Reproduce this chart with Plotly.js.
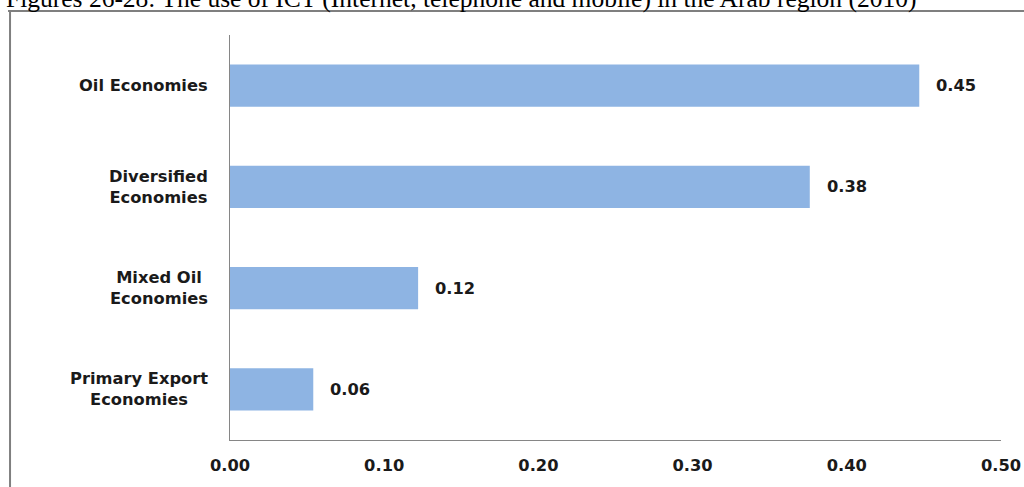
<!DOCTYPE html>
<html>
<head>
<meta charset="utf-8">
<script src="https://cdn.plot.ly/plotly-3.0.1.min.js"></script>
<style>
html,body{margin:0;padding:0;background:#fff;}
#chart{width:1024px;height:487px;}
</style>
</head>
<body>
<div id="chart"></div>
<script>
var titleText = "Figures 26-28: The use of ICT (Internet, telephone and mobile) in the Arab region (2010)";
var categories = ["Oil Economies", "Diversified<br>Economies", "Mixed Oil<br>Economies", "Primary Export<br>Economies"];
var values = [0.447, 0.376, 0.122, 0.054];
var valueLabels = ["0.45", "0.38", "0.12", "0.06"];
var xTicks = [0, 0.1, 0.2, 0.3, 0.4, 0.5];
var xTickLabels = ["0.00", "0.10", "0.20", "0.30", "0.40", "0.50"];

var labelFont = {family: "DejaVu Sans", size: 16.3, color: "#1a1a1a", weight: "bold"};

var trace = {
  type: "bar",
  orientation: "h",
  x: values,
  y: categories,
  marker: {color: "#8EB4E3", line: {width: 0}},
  hoverinfo: "none"
};

var annotations = [];
categories.forEach(function (c) {
  annotations.push({
    xref: "paper", yref: "y", x: 0, y: c,
    xanchor: "right", yanchor: "middle", xshift: -20,
    text: c, showarrow: false, align: "center",
    font: labelFont
  });
});
values.forEach(function (v, i) {
  annotations.push({
    xref: "x", yref: "y", x: v, y: categories[i],
    xanchor: "left", yanchor: "middle", xshift: 15,
    text: valueLabels[i], showarrow: false,
    font: labelFont
  });
});
annotations.push({
  xref: "paper", yref: "paper", x: -0.2931, y: 1.09,
  xanchor: "left", yanchor: "middle",
  text: titleText, showarrow: false,
  font: {family: "Liberation Serif", size: 25.5, color: "#000"}
});

var layout = {
  width: 1024, height: 487,
  margin: {l: 230, r: 23, t: 35, b: 47, pad: 0},
  paper_bgcolor: "#fff", plot_bgcolor: "#fff",
  showlegend: false,
  bargap: 0.585,
  xaxis: {
    range: [0, 0.5], fixedrange: true,
    tickmode: "array", tickvals: xTicks, ticktext: xTickLabels,
    showgrid: false, zeroline: false,
    showline: true, linecolor: "#868686", linewidth: 1,
    ticks: "", ticklabelstandoff: 10,
    tickfont: {family: "DejaVu Sans", size: 16.3, color: "#1a1a1a", weight: "bold"}
  },
  yaxis: {
    type: "category", autorange: "reversed", fixedrange: true,
    showticklabels: false, showgrid: false, zeroline: false,
    showline: true, linecolor: "#868686", linewidth: 1, ticks: ""
  },
  annotations: annotations,
  shapes: [
    {type: "line", xref: "paper", yref: "paper", x0: -0.2853, x1: -0.2853, y0: 1.0593, y1: -0.2,
     line: {color: "#7f7f7f", width: 2}},
    {type: "line", xref: "paper", yref: "paper", x0: -0.2879, x1: 1.05, y0: 1.0593, y1: 1.0593,
     line: {color: "#7f7f7f", width: 2}}
  ]
};

Plotly.newPlot("chart", [trace], layout, {displayModeBar: false, staticPlot: true});
</script>
</body>
</html>
